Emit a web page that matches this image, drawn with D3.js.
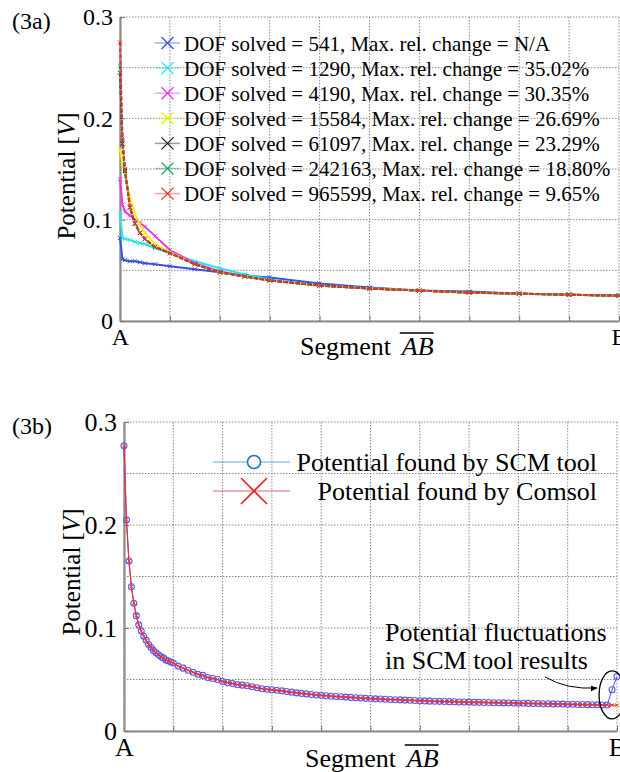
<!DOCTYPE html>
<html>
<head>
<meta charset="utf-8">
<script src="https://cdn.jsdelivr.net/npm/d3@7"></script>
<style>
  body { margin: 0; background: #fff; }
  svg text { font-family: "Liberation Serif", "DejaVu Serif", serif; }
</style>
</head>
<body>
<svg id="chart" width="620" height="772"></svg>
<script>
// ---- Figure 3a: potential along AB for each mesh ----
let posA = [0, 0.005, 0.01, 0.02, 0.03, 0.04, 0.05, 0.07, 0.1, 0.15, 0.2, 0.25, 0.3, 0.4, 0.5, 0.6, 0.7, 0.8, 0.9, 1.0];
let dof541    = [0.082, 0.061, 0.060, 0.059, 0.059, 0.058, 0.057, 0.056, 0.054, 0.051, 0.048, 0.045, 0.043, 0.037, 0.033, 0.030, 0.029, 0.027, 0.026, 0.025];
let dof1290   = [0.107, 0.082, 0.081, 0.080, 0.078, 0.077, 0.076, 0.072, 0.067, 0.059, 0.052, 0.046, 0.041, 0.035, 0.032, 0.030, 0.028, 0.027, 0.026, 0.025];
let dof4190   = [0.140, 0.115, 0.108, 0.104, 0.100, 0.097, 0.093, 0.084, 0.070, 0.057, 0.049, 0.044, 0.040, 0.035, 0.032, 0.030, 0.028, 0.027, 0.026, 0.025];
let dof15584  = [0.170, 0.155, 0.143, 0.122, 0.106, 0.095, 0.087, 0.076, 0.068, 0.056, 0.048, 0.044, 0.040, 0.035, 0.032, 0.030, 0.028, 0.027, 0.026, 0.025];
let dof61097  = [0.245, 0.175, 0.148, 0.112, 0.096, 0.087, 0.081, 0.073, 0.067, 0.056, 0.048, 0.044, 0.040, 0.035, 0.032, 0.030, 0.028, 0.027, 0.026, 0.025];
let dof242163 = [0.252, 0.178, 0.149, 0.112, 0.096, 0.087, 0.081, 0.073, 0.067, 0.056, 0.048, 0.044, 0.040, 0.035, 0.032, 0.030, 0.028, 0.027, 0.026, 0.025];
let dof965599 = [0.275, 0.180, 0.150, 0.112, 0.096, 0.087, 0.081, 0.073, 0.067, 0.056, 0.048, 0.044, 0.040, 0.035, 0.032, 0.030, 0.028, 0.027, 0.026, 0.025];
let seriesA = [dof541, dof1290, dof4190, dof15584, dof61097, dof242163, dof965599];
let legendA = [
  "DOF solved = 541, Max. rel. change = N/A",
  "DOF solved = 1290, Max. rel. change = 35.02%",
  "DOF solved = 4190, Max. rel. change = 30.35%",
  "DOF solved = 15584, Max. rel. change = 26.69%",
  "DOF solved = 61097, Max. rel. change = 23.29%",
  "DOF solved = 242163, Max. rel. change = 18.80%",
  "DOF solved = 965599, Max. rel. change = 9.65%"
];
let colorsA = ["#3a4fe0", "#22e6ee", "#ee33ee", "#f2ee10", "#222222", "#1fa85a", "#f02a2a"];

// ---- Figure 3b: SCM tool vs Comsol ----
let posB = [0, 0.005, 0.01, 0.015, 0.02, 0.025, 0.03, 0.035, 0.04, 0.045, 0.05, 0.055, 0.06, 0.065, 0.07, 0.075, 0.08, 0.085, 0.09, 0.095, 0.1,
  0.11, 0.12, 0.13, 0.14, 0.15, 0.16, 0.17, 0.18, 0.19, 0.2,
  0.21, 0.22, 0.23, 0.24, 0.25, 0.26, 0.27, 0.28, 0.29, 0.3,
  0.31, 0.32, 0.33, 0.34, 0.35, 0.36, 0.37, 0.38, 0.39, 0.4,
  0.41, 0.42, 0.43, 0.44, 0.45, 0.46, 0.47, 0.48, 0.49, 0.5,
  0.51, 0.52, 0.53, 0.54, 0.55, 0.56, 0.57, 0.58, 0.59, 0.6,
  0.61, 0.62, 0.63, 0.64, 0.65, 0.66, 0.67, 0.68, 0.69, 0.7,
  0.71, 0.72, 0.73, 0.74, 0.75, 0.76, 0.77, 0.78, 0.79, 0.8,
  0.81, 0.82, 0.83, 0.84, 0.85, 0.86, 0.87, 0.88, 0.89, 0.9,
  0.91, 0.92, 0.93, 0.94, 0.95, 0.96, 0.97, 0.98, 0.99, 1.0];
let scmVals = [0.277, 0.205, 0.165, 0.140, 0.124, 0.112, 0.103, 0.097, 0.092, 0.088, 0.084, 0.081, 0.078, 0.076, 0.074, 0.072, 0.071, 0.069, 0.068, 0.067, 0.066,
  0.063, 0.061, 0.059, 0.057, 0.055, 0.054, 0.052, 0.051, 0.050, 0.048,
  0.047, 0.046, 0.045, 0.0445, 0.044, 0.043, 0.042, 0.041, 0.0405, 0.040,
  0.0395, 0.039, 0.0383, 0.0377, 0.037, 0.0365, 0.036, 0.0355, 0.035, 0.0346,
  0.0342, 0.0338, 0.0335, 0.0332, 0.0329, 0.0326, 0.0323, 0.032, 0.0317, 0.0315,
  0.0312, 0.031, 0.0308, 0.0306, 0.0304, 0.0302, 0.030, 0.0298, 0.0296, 0.0294,
  0.0292, 0.029, 0.0289, 0.0288, 0.0286, 0.0285, 0.0284, 0.0282, 0.0281, 0.028,
  0.0279, 0.0278, 0.0277, 0.0276, 0.0275, 0.0274, 0.0273, 0.0272, 0.0271, 0.027,
  0.0269, 0.0268, 0.0267, 0.0266, 0.0265, 0.0264, 0.0263, 0.0262, 0.0261, 0.026,
  0.0259, 0.0258, 0.0257, 0.0256, 0.0255, 0.0254, 0.0253, 0.0252, 0.040, 0.053];
let comsolVals = [0.277, 0.205, 0.165, 0.140, 0.124, 0.112, 0.103, 0.097, 0.092, 0.088, 0.084, 0.081, 0.078, 0.076, 0.074, 0.072, 0.071, 0.069, 0.068, 0.067, 0.066,
  0.063, 0.061, 0.059, 0.057, 0.055, 0.054, 0.052, 0.051, 0.050, 0.048,
  0.047, 0.046, 0.045, 0.0445, 0.044, 0.043, 0.042, 0.041, 0.0405, 0.040,
  0.0395, 0.039, 0.0383, 0.0377, 0.037, 0.0365, 0.036, 0.0355, 0.035, 0.0346,
  0.0342, 0.0338, 0.0335, 0.0332, 0.0329, 0.0326, 0.0323, 0.032, 0.0317, 0.0315,
  0.0312, 0.031, 0.0308, 0.0306, 0.0304, 0.0302, 0.030, 0.0298, 0.0296, 0.0294,
  0.0292, 0.029, 0.0289, 0.0288, 0.0286, 0.0285, 0.0284, 0.0282, 0.0281, 0.028,
  0.0279, 0.0278, 0.0277, 0.0276, 0.0275, 0.0274, 0.0273, 0.0272, 0.0271, 0.027,
  0.0269, 0.0268, 0.0267, 0.0266, 0.0265, 0.0264, 0.0263, 0.0262, 0.0261, 0.026,
  0.0259, 0.0258, 0.0257, 0.0256, 0.0255, 0.0254, 0.0253, 0.0252, 0.0251, 0.025];
let legendB = ["Potential found by SCM tool", "Potential found by Comsol"];

// shared axes settings
let xGrid = [0, 0.1, 0.2, 0.3, 0.4, 0.5, 0.6, 0.7, 0.8, 0.9, 1.0];
let yGrid = [0, 0.05, 0.1, 0.15, 0.2, 0.25, 0.3];
let yTicks = [0, 0.1, 0.2, 0.3];
let xTickNames = {0: "A", 1: "B"};

let serif = '"Liberation Serif", "DejaVu Serif", serif';
let svg = d3.select('#chart');
let xMark = (s) => "M" + (-s) + "," + (-s) + "L" + s + "," + s + "M" + (-s) + "," + s + "L" + s + "," + (-s);

// Draw grid, axes and titles; returns the scales
function BuildFrame(box, fs, tag){
  let x_scale = d3.scaleLinear().domain([0, 1]).range([box.left, box.right]);
  let y_scale = d3.scaleLinear().domain([0, 0.3]).range([box.bottom, box.top]);
  let g = svg.append('g');

  // dotted grid
  g.selectAll('.vgrid').data(xGrid).enter().append('line')
    .attr('x1', d => x_scale(d)).attr('x2', d => x_scale(d))
    .attr('y1', box.top).attr('y2', box.bottom)
    .attr('stroke', '#8a8a8a').attr('stroke-dasharray', '1.5,1.5');
  g.selectAll('.hgrid').data(yGrid).enter().append('line')
    .attr('x1', box.left).attr('x2', box.right)
    .attr('y1', d => y_scale(d)).attr('y2', d => y_scale(d))
    .attr('stroke', '#8a8a8a').attr('stroke-dasharray', '1.5,1.5');

  // axes
  let x_axis = d3.axisBottom(x_scale)
    .tickValues(xGrid).tickSizeInner(-5).tickSizeOuter(0).tickPadding(7)
    .tickFormat(d => xTickNames[d] || "");
  let xg = g.append('g').attr('transform', 'translate(0,' + box.bottom + ')').call(x_axis);

  let y_axis = d3.axisLeft(y_scale)
    .tickValues(yTicks).tickSizeInner(-5).tickSizeOuter(0).tickPadding(7)
    .tickFormat(d => d === 0 ? "0" : d3.format(".1f")(d));
  let yg = g.append('g').attr('transform', 'translate(' + box.left + ',0)').call(y_axis);

  [xg, yg].forEach(a => {
    a.attr('font-family', serif);
    a.select('.domain').attr('stroke', '#8c8c8c').attr('stroke-width', 2.2);
    a.selectAll('.tick line').attr('stroke', '#777');
    a.selectAll('text').attr('fill', '#000').style('font-size', fs + 'px')
      .style('font-family', serif);
  });

  // panel tag
  g.append('text').attr('x', 12).attr('y', box.top + 12)
    .style('font-family', serif).style('font-size', '24px').text(tag);

  // y title
  let yt = g.append('text')
    .attr('text-anchor', 'middle')
    .attr('transform', 'translate(' + box.ylabX + ',' + box.ylabY + ')rotate(-90)')
    .attr('dy', '0.35em')
    .style('font-family', serif)
    .style('font-size', '25px');
  yt.append('tspan').text('Potential [');
  yt.append('tspan').style('font-style', 'italic').text('V');
  yt.append('tspan').text(']');

  // x title with overline on AB
  let seg = g.append('text').attr('x', box.xlabX).attr('y', box.xlabY)
    .style('font-family', serif).style('font-size', '26px').text('Segment');
  let segW = seg.node().getBBox().width;
  let ab = g.append('text').attr('x', box.xlabX + segW + 10).attr('y', box.xlabY)
    .style('font-family', serif).style('font-size', '26px').style('font-style', 'italic').text('AB');
  let abBox = ab.node().getBBox();
  g.append('line')
    .attr('x1', abBox.x).attr('x2', abBox.x + abBox.width)
    .attr('y1', box.xlabY - 22).attr('y2', box.xlabY - 22)
    .attr('stroke', '#000').attr('stroke-width', 1.5);

  return {x: x_scale, y: y_scale, g: g};
}

// ---------------- Panel 3a ----------------
let boxA = {left: 120, right: 619, top: 17, bottom: 321, ylabX: 66, ylabY: 176, xlabX: 300, xlabY: 355};
let fa = BuildFrame(boxA, 24, "(3a)");

let lineA = d3.line().x((d, i) => fa.x(posA[i])).y(d => fa.y(d));
seriesA.forEach((vals, k) => {
  fa.g.append('path')
    .attr('d', lineA(vals))
    .attr('fill', 'none')
    .attr('stroke', colorsA[k])
    .attr('stroke-width', 2)
    .attr('stroke-dasharray', k >= 4 ? '4,2' : null);
  fa.g.selectAll('.mk' + k).data(vals).enter().append('path')
    .attr('transform', (d, i) => 'translate(' + fa.x(posA[i]) + ',' + fa.y(d) + ')')
    .attr('d', xMark(2))
    .attr('stroke', colorsA[k]).attr('stroke-width', 1).attr('fill', 'none');
});

// legend 3a
let legA = fa.g.append('g');
legendA.forEach((name, i) => {
  let cy = 43 + i * 25.1;
  legA.append('line').attr('x1', 155).attr('x2', 180).attr('y1', cy).attr('y2', cy)
    .attr('stroke', colorsA[i]).attr('stroke-opacity', 0.45).attr('stroke-width', 1.5);
  legA.append('path').attr('transform', 'translate(167.5,' + cy + ')')
    .attr('d', xMark(6)).attr('stroke', colorsA[i]).attr('stroke-width', 1.3);
  legA.append('text').attr('x', 184).attr('y', cy + 7.5)
    .style('font-family', serif).style('font-size', '21px').text(name);
});

// ---------------- Panel 3b ----------------
let boxB = {left: 124, right: 617, top: 422, bottom: 731, ylabX: 71, ylabY: 572, xlabX: 305, xlabY: 767};
let fb = BuildFrame(boxB, 26, "(3b)");

let lineB = d3.line().x((d, i) => fb.x(posB[i])).y(d => fb.y(d));
fb.g.append('path').attr('d', lineB(scmVals))
  .attr('fill', 'none').attr('stroke', '#4a55f0').attr('stroke-width', 1);
fb.g.selectAll('.scm').data(scmVals).enter().append('circle')
  .attr('cx', (d, i) => fb.x(posB[i])).attr('cy', d => fb.y(d)).attr('r', 3)
  .attr('fill', 'none').attr('stroke', '#5a5af2').attr('stroke-width', 1.1);
fb.g.append('path').attr('d', lineB(comsolVals))
  .attr('fill', 'none').attr('stroke', '#f03030').attr('stroke-width', 1.2);
fb.g.selectAll('.com').data(comsolVals).enter().append('path')
  .attr('transform', (d, i) => 'translate(' + fb.x(posB[i]) + ',' + fb.y(d) + ')')
  .attr('d', xMark(1.8)).attr('stroke', '#f03030').attr('stroke-width', 1);

// legend 3b
let legB = fb.g.append('g');
[462, 491].forEach((cy, i) => {
  legB.append('line').attr('x1', 213).attr('x2', 290).attr('y1', cy).attr('y2', cy)
    .attr('stroke', i === 0 ? '#5aaad8' : '#d86a6a').attr('stroke-width', 1);
  if (i === 0) {
    legB.append('circle').attr('cx', 254).attr('cy', cy).attr('r', 6.5)
      .attr('fill', '#fff').attr('stroke', '#1f72c0').attr('stroke-width', 1.6);
  } else {
    legB.append('path').attr('transform', 'translate(254,' + cy + ')')
      .attr('d', xMark(13)).attr('stroke', '#f02020').attr('stroke-width', 1.6);
  }
  legB.append('text').attr('x', 597).attr('y', cy + 9).attr('text-anchor', 'end')
    .style('font-family', serif).style('font-size', '26px').text(legendB[i]);
});

// annotation of the fluctuations near B (two separate lines)
fb.g.append('text').attr('x', 385).attr('y', 641)
  .style('font-family', serif).style('font-size', '26px').text('Potential fluctuations');
fb.g.append('text').attr('x', 385).attr('y', 669)
  .style('font-family', serif).style('font-size', '26px').text('in SCM tool results');

let ex = fb.x(0.99), ey = fb.y(0.035);
fb.g.append('ellipse').attr('cx', ex).attr('cy', ey).attr('rx', 13).attr('ry', 24)
  .attr('fill', 'none').attr('stroke', '#000').attr('stroke-width', 1.3);

svg.append('defs').append('marker')
  .attr('id', 'arrow').attr('viewBox', '0 0 10 10').attr('refX', 9).attr('refY', 5)
  .attr('markerWidth', 7).attr('markerHeight', 7).attr('orient', 'auto')
  .append('path').attr('d', 'M0,1L10,5L0,9z').attr('fill', '#000');
fb.g.append('path')
  .attr('d', 'M' + (ex - 67) + ',' + (ey - 18) + 'Q' + (ex - 45) + ',' + (ey - 5) + ' ' + (ex - 15) + ',' + (ey - 7))
  .attr('fill', 'none').attr('stroke', '#000').attr('stroke-width', 1)
  .attr('marker-end', 'url(#arrow)');
</script>
</body>
</html>
